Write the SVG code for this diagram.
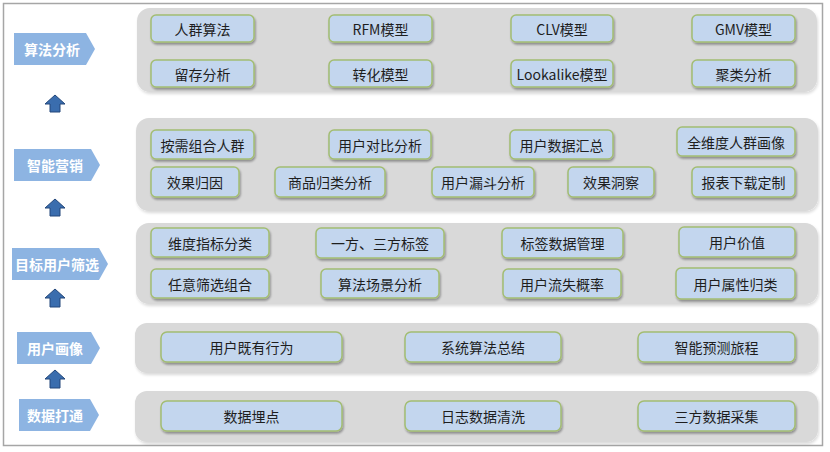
<svg xmlns="http://www.w3.org/2000/svg" width="830" height="452" viewBox="0 0 830 452">
<defs>
<filter id="sh" x="-10%" y="-20%" width="120%" height="150%">
<feGaussianBlur in="SourceAlpha" stdDeviation="1"/>
<feOffset dx="0.5" dy="1.5" result="o"/>
<feComponentTransfer><feFuncA type="linear" slope="0.35"/></feComponentTransfer>
<feMerge><feMergeNode/><feMergeNode in="SourceGraphic"/></feMerge>
</filter>
<filter id="psh" x="-5%" y="-10%" width="110%" height="130%">
<feGaussianBlur in="SourceAlpha" stdDeviation="1.5"/>
<feOffset dx="1" dy="2" result="o"/>
<feComponentTransfer><feFuncA type="linear" slope="0.15"/></feComponentTransfer>
<feMerge><feMergeNode/><feMergeNode in="SourceGraphic"/></feMerge>
</filter>
</defs>
<style>
.panel{fill:#d9d9d9;filter:url(#psh)}
.box rect{fill:#c3d6ee;stroke:#a3bd73;stroke-width:1.5;filter:url(#sh)}
.box text{font-family:"Noto Sans CJK SC","Liberation Sans",sans-serif;font-size:14px;fill:#1e1e1e;text-anchor:middle;dominant-baseline:central}
.lbl polygon{fill:#8db4e2}
.lbl text{font-family:"Noto Sans CJK SC","Liberation Sans",sans-serif;font-size:14px;font-weight:bold;fill:#ffffff;text-anchor:middle;dominant-baseline:central}
.arr{fill:#3a6dae;stroke:#23477a;stroke-width:1}
</style>
<rect x="0" y="0" width="830" height="452" fill="#ffffff"/>
<rect x="3.5" y="3.5" width="819" height="442" fill="#ffffff" stroke="#a6a6a6" stroke-width="1.5"/>

<!-- panels -->
<g id="panels">
<rect class="panel" x="137" y="8" width="680" height="84" rx="13"/>
<rect class="panel" x="136" y="118" width="682" height="93" rx="13"/>
<rect class="panel" x="136" y="223" width="682" height="81" rx="13"/>
<rect class="panel" x="135" y="323" width="683" height="50" rx="12"/>
<rect class="panel" x="135" y="391" width="683" height="51" rx="12"/>
</g>

<!-- left labels -->
<g id="lbl-suanfa" class="lbl"><polygon points="14,33 86,33 95,49 86,65 14,65"/><text x="52" y="49">算法分析</text></g>
<g id="lbl-zhineng" class="lbl"><polygon points="14,149 91,149 100,165 91,181 14,181"/><text x="55" y="165">智能营销</text></g>
<g id="lbl-mubiao" class="lbl"><polygon points="12,248 99,248 108,264 99,280 12,280"/><text x="57" y="264">目标用户筛选</text></g>
<g id="lbl-huaxiang" class="lbl"><polygon points="17,332 91,332 100,348 91,364 17,364"/><text x="55" y="348">用户画像</text></g>
<g id="lbl-datong" class="lbl"><polygon points="19,399 90,399 99,415 90,431 19,431"/><text x="55" y="415">数据打通</text></g>

<!-- connectors (up arrows) -->
<g id="connectors">
<polygon class="arr" points="55,95 65,104 60,104 60,112 50,112 50,104 45,104"/>
<polygon class="arr" points="55,199 65,208 60,208 60,216 50,216 50,208 45,208"/>
<polygon class="arr" points="55,289 65,298 60,298 60,307 50,307 50,298 45,298"/>
<polygon class="arr" points="55,370 65,379 60,379 60,388 50,388 50,379 45,379"/>
</g>

<!-- panel 1 -->
<g id="n-renqunsuanfa" class="box"><rect x="151" y="15" width="103" height="27" rx="5"/><text x="202.5" y="28.5">人群算法</text></g>
<g id="n-rfm" class="box"><rect x="329" y="15" width="103" height="27" rx="5"/><text x="380.5" y="28.5">RFM模型</text></g>
<g id="n-clv" class="box"><rect x="511" y="15" width="102" height="27" rx="5"/><text x="562" y="28.5">CLV模型</text></g>
<g id="n-gmv" class="box"><rect x="692" y="15" width="103" height="27" rx="5"/><text x="743.5" y="28.5">GMV模型</text></g>
<g id="n-liucun" class="box"><rect x="151" y="60" width="103" height="27" rx="5"/><text x="202.5" y="73.5">留存分析</text></g>
<g id="n-zhuanhua" class="box"><rect x="329" y="60" width="103" height="27" rx="5"/><text x="380.5" y="73.5">转化模型</text></g>
<g id="n-lookalike" class="box"><rect x="511" y="60" width="102" height="27" rx="5"/><text x="562" y="73.5">Lookalike模型</text></g>
<g id="n-julei" class="box"><rect x="692" y="60" width="103" height="27" rx="5"/><text x="743.5" y="73.5">聚类分析</text></g>

<!-- panel 2 -->
<g id="n-anxu" class="box"><rect x="151" y="130" width="103" height="29" rx="5"/><text x="202.5" y="144.5">按需组合人群</text></g>
<g id="n-duibi" class="box"><rect x="329" y="130" width="102" height="29" rx="5"/><text x="380" y="144.5">用户对比分析</text></g>
<g id="n-huizong" class="box"><rect x="510" y="130" width="103" height="29" rx="5"/><text x="561.5" y="144.5">用户数据汇总</text></g>
<g id="n-quanweidu" class="box"><rect x="677" y="127" width="118" height="29" rx="5"/><text x="736" y="141.5">全维度人群画像</text></g>
<g id="n-guiyin" class="box"><rect x="151" y="167" width="88" height="30" rx="5"/><text x="195" y="182">效果归因</text></g>
<g id="n-shangpin" class="box"><rect x="275" y="167" width="110" height="30" rx="5"/><text x="330" y="182">商品归类分析</text></g>
<g id="n-loudou" class="box"><rect x="432" y="167" width="102" height="30" rx="5"/><text x="483" y="182">用户漏斗分析</text></g>
<g id="n-dongcha" class="box"><rect x="568" y="167" width="86" height="30" rx="5"/><text x="611" y="182">效果洞察</text></g>
<g id="n-baobiao" class="box"><rect x="692" y="167" width="103" height="30" rx="5"/><text x="743.5" y="182">报表下载定制</text></g>

<!-- panel 3 -->
<g id="n-weidu" class="box"><rect x="151" y="228" width="118" height="29" rx="5"/><text x="210" y="242.5">维度指标分类</text></g>
<g id="n-yifang" class="box"><rect x="316" y="228" width="128" height="30" rx="5"/><text x="380" y="243">一方、三方标签</text></g>
<g id="n-biaoqian" class="box"><rect x="502" y="228" width="121" height="30" rx="5"/><text x="562.5" y="243">标签数据管理</text></g>
<g id="n-jiazhi" class="box"><rect x="679" y="227" width="116" height="30" rx="5"/><text x="737" y="242">用户价值</text></g>
<g id="n-renyi" class="box"><rect x="151" y="269" width="118" height="29" rx="5"/><text x="210" y="283.5">任意筛选组合</text></g>
<g id="n-changjing" class="box"><rect x="321" y="269" width="118" height="29" rx="5"/><text x="380" y="283.5">算法场景分析</text></g>
<g id="n-liushi" class="box"><rect x="503" y="269" width="118" height="29" rx="5"/><text x="562" y="283.5">用户流失概率</text></g>
<g id="n-shuxing" class="box"><rect x="676" y="268" width="119" height="31" rx="5"/><text x="735.5" y="283.5">用户属性归类</text></g>

<!-- panel 4 -->
<g id="n-jiyou" class="box"><rect x="161" y="332" width="181" height="30" rx="6"/><text x="251.5" y="347">用户既有行为</text></g>
<g id="n-xitong" class="box"><rect x="405" y="332" width="156" height="30" rx="6"/><text x="483" y="347">系统算法总结</text></g>
<g id="n-yuce" class="box"><rect x="638" y="332" width="157" height="30" rx="6"/><text x="716.5" y="347">智能预测旅程</text></g>

<!-- panel 5 -->
<g id="n-maidian" class="box"><rect x="161" y="401" width="181" height="30" rx="6"/><text x="251.5" y="416">数据埋点</text></g>
<g id="n-qingxi" class="box"><rect x="405" y="401" width="156" height="30" rx="6"/><text x="483" y="416">日志数据清洗</text></g>
<g id="n-caiji" class="box"><rect x="638" y="401" width="157" height="30" rx="6"/><text x="716.5" y="416">三方数据采集</text></g>
</svg>
